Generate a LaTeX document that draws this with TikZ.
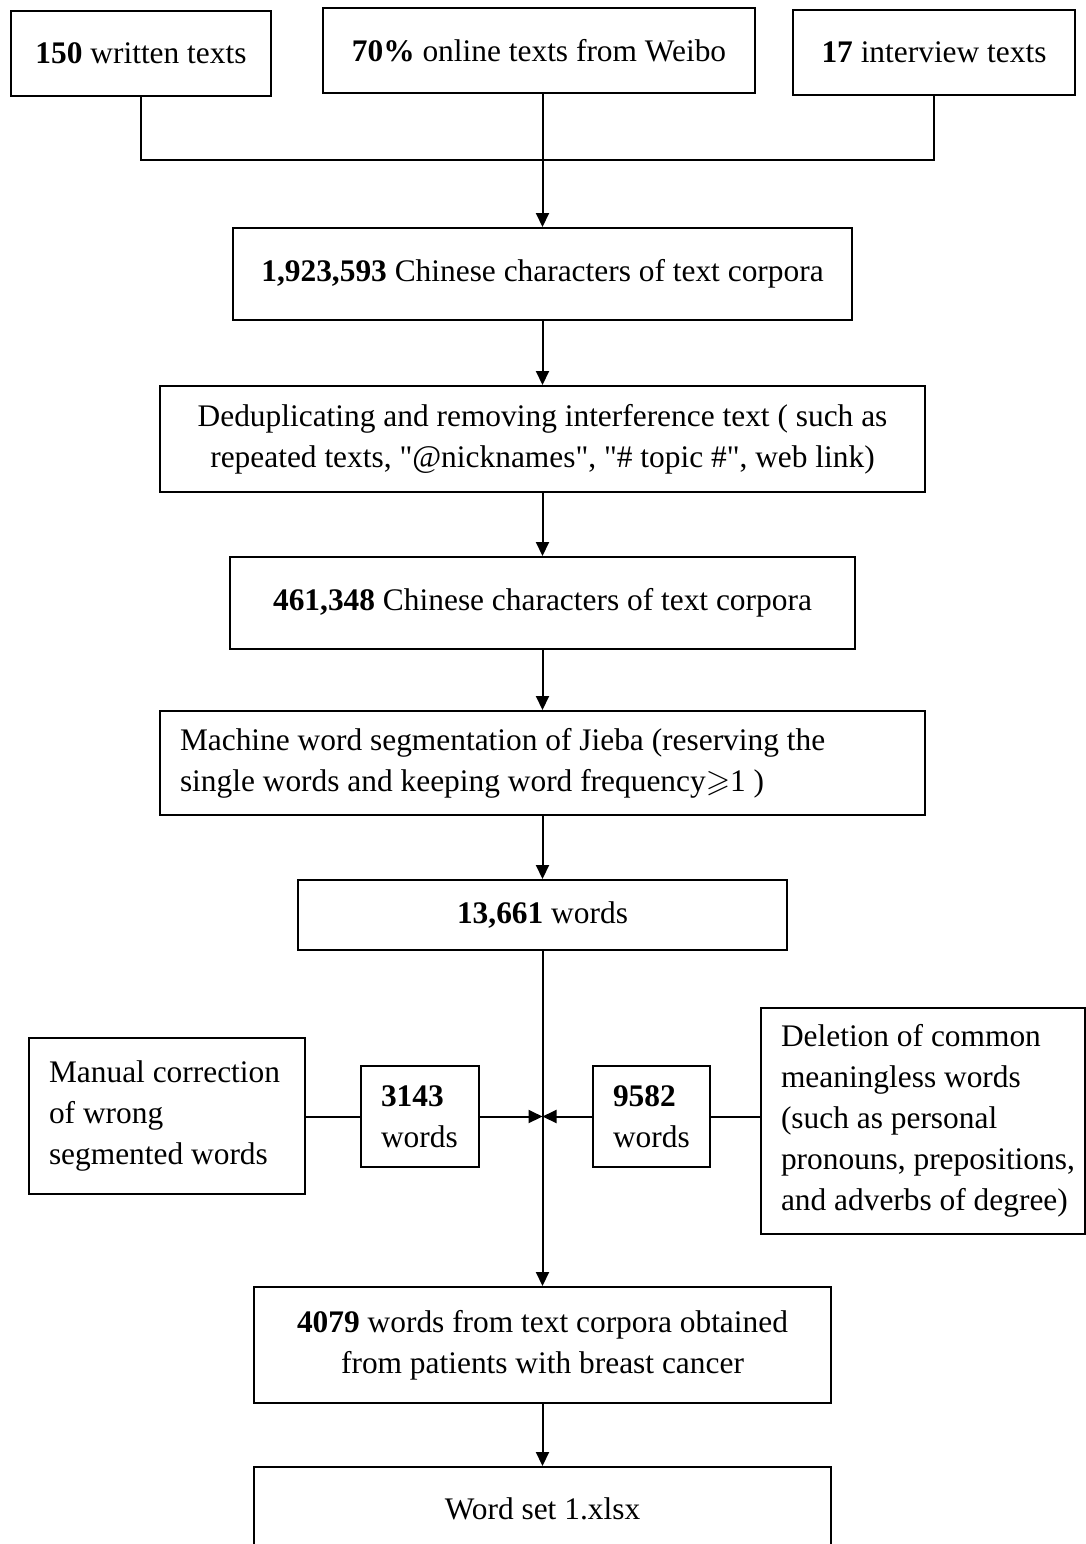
\documentclass[tikz,border=0pt]{standalone}
\usepackage{amssymb}
\usepackage{fontspec}
\setmainfont{Liberation Serif}
\usetikzlibrary{arrows.meta}
\begin{document}
\begin{tikzpicture}[x=0.5pt,y=-0.5pt,
  box/.style={draw,line width=1pt,inner sep=0pt,align=center,
    font=\fontsize{15.7}{20.5}\selectfont},
  lbox/.style={box,align=flush left,inner xsep=10pt},
  link/.style={line width=1pt},
  arr/.style={line width=1pt,-{Triangle[length=7pt,width=6.5pt]}}]
\clip (0,0) rectangle (1086,1544);
\fill[white] (0,0) rectangle (1086,1544);
% top row
\node[box,minimum width=130pt,minimum height=42.5pt] (A) at (141,53.5) {\textbf{150} written texts};
\node[box,minimum width=216pt,minimum height=42.5pt] (B) at (539,50.5) {\textbf{70\%} online texts from Weibo};
\node[box,minimum width=141pt,minimum height=42.5pt] (C) at (934,52.5) {\textbf{17} interview texts};
\coordinate (j) at (542.5,160);
% main column
\node[box,minimum width=309.5pt,minimum height=46pt] (D) at (542.5,274) {\textbf{1,923,593} Chinese characters of text corpora};
\node[box,minimum width=382.5pt,minimum height=53pt] (E) at (542.5,439) {Deduplicating and removing interference text ( such as\\repeated texts, \textquotedbl @nicknames\textquotedbl, \textquotedbl\# topic \#\textquotedbl, web link)};
\node[box,minimum width=312.5pt,minimum height=46pt] (F) at (542.5,603) {\textbf{461,348} Chinese characters of text corpora};
\node[lbox,text width=362.5pt,minimum height=52pt] (G) at (542.5,763) {Machine word segmentation of Jieba (reserving the\\single words and keeping word frequency$\geqslant$1 )};
\node[box,minimum width=244.5pt,minimum height=35pt] (H) at (542.5,915) {\textbf{13,661} words};
% side branches
\node[lbox,text width=118pt,minimum height=78pt] (M) at (167,1116) {Manual correction\\of wrong\\segmented words};
\node[lbox,text width=39pt,minimum height=50.5pt] (N1) at (420,1116.5) {\textbf{3143}\\words};
\node[lbox,text width=38.5pt,minimum height=50.5pt] (N2) at (651.5,1116.5) {\textbf{9582}\\words};
\node[lbox,text width=142pt,minimum height=113pt] (Del) at (923,1121) {\mbox{Deletion of common}\\\mbox{meaningless words}\\\mbox{(such as personal}\\\mbox{pronouns, prepositions,}\\\mbox{and adverbs of degree)}};
% bottom
\node[box,minimum width=288.5pt,minimum height=58pt] (J) at (542.5,1345) {\textbf{4079} words from text corpora obtained\\from patients with breast cancer};
\node[box,minimum width=288.5pt,minimum height=42pt] (K) at (542.5,1509) {Word set 1.xlsx};
% connectors
\draw[link] (A.south) |- (j);
\draw[link] (C.south) |- (j);
\draw[arr] (D.north |- B.south) -- (D.north);
\draw[arr] (D.south) -- (E.north);
\draw[arr] (E.south) -- (F.north);
\draw[arr] (F.south) -- (G.north);
\draw[arr] (G.south) -- (H.north);
\draw[arr] (H.south) -- (J.north);
\draw[link] (M.east |- N1.west) -- (N1.west);
\draw[arr] (N1.east) -- (N1.east -| H.south);
\draw[arr] (N2.west) -- (N2.west -| H.south);
\draw[link] (N2.east) -- (N2.east -| Del.west);
\draw[arr] (J.south) -- (K.north);
\end{tikzpicture}
\end{document}
